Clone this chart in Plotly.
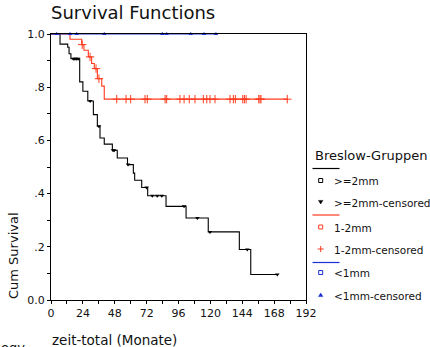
import numpy as np
import plotly.graph_objects as go

# ---------------- data ----------------
x_tickvals = [0, 24, 48, 72, 96, 120, 144, 168, 192]
y_tickvals = [0.0, 0.2, 0.4, 0.6, 0.8, 1.0]
y_ticktext = ["0.0", ".2", ".4", ".6", ".8", "1.0"]

# >=2mm
ge2_event_t = [6.8, 12.6, 13.6, 15.0, 21.6, 24.0, 27.7, 31.9, 34.9, 36.9, 40.1,
               46.2, 49.9, 57.6, 62.0, 63.0, 68.3, 72.8, 86.6, 101.7, 118.4,
               141.8, 150.4]
ge2_surv = [0.962, 0.950, 0.926, 0.907, 0.820, 0.785, 0.748, 0.697, 0.653, 0.609,
            0.586, 0.563, 0.534, 0.509, 0.477, 0.450, 0.423, 0.392, 0.352, 0.308,
            0.256, 0.190, 0.096]
ge2_cens_t = [16.8, 18.0, 19.2, 20.4, 29.5, 36.1, 46.7, 47.6, 58.0, 72.0, 76.3,
              80.0, 83.4, 100.2, 110.2, 119.7, 147.8, 170.4]

# 1-2mm
m12_event_t = [14.3, 23.1, 24.8, 28.1, 30.6, 32.6, 34.9, 38.2, 40.1]
m12_surv = [0.980, 0.960, 0.939, 0.914, 0.889, 0.870, 0.832, 0.804, 0.755]
m12_cens_t = [23.5, 29.4, 33.9, 36.1, 49.5, 56.5, 60.0, 70.8, 72.5, 85.9, 87.1,
              97.1, 100.2, 104.1, 108.4, 114.7, 117.3, 119.7, 123.5, 134.8,
              137.3, 138.8, 144.4, 145.6, 146.9, 156.4, 157.4, 158.1, 177.9]

# <1mm
l1_event_t = []
l1_surv = []
l1_cens_t = [4.3, 14.3, 19.3, 40.1, 83.8, 87.1, 105.2, 115.2, 124.2]

groups = [
    (">=2mm", ge2_event_t, ge2_surv, ge2_cens_t),
    ("1-2mm", m12_event_t, m12_surv, m12_cens_t),
    ("<1mm", l1_event_t, l1_surv, l1_cens_t),
]
colors = {">=2mm": "#000000", "1-2mm": "#ff3b1e", "<1mm": "#1b2fd2"}
cens_style = {
    ">=2mm": dict(symbol="triangle-down", size=4, color="#000000"),
    "1-2mm": dict(symbol="cross-thin-open", size=6, color="#ff3b1e",
                  line=dict(width=1, color="#ff3b1e")),
    "<1mm": dict(symbol="triangle-up", size=4, color="#1b2fd2"),
}

FONT = "DejaVu Sans"
W, H = 430, 347
# plot area in picture pixels
PL, PR, PT, PB = 51, 306, 34, 300
L, T = PL, PT
R, B = W - PR, H - PB
PW, PH = PR - PL, PB - PT


def px(xpix):
    return (xpix - PL) / PW


def py(ypix):
    return (PB - ypix) / PH


fig = go.Figure()

for name, et, sv, ct in groups:
    et = np.asarray(et, dtype=float)
    sv = np.asarray(sv, dtype=float)
    ct = np.asarray(ct, dtype=float)
    end = max(ct.max() if ct.size else 0, et.max() if et.size else 0)
    xs = np.concatenate([[0.0], et, [end]])
    ys = np.concatenate([[1.0], sv, [sv[-1] if sv.size else 1.0]])
    fig.add_trace(go.Scatter(x=xs, y=ys, mode="lines", line_shape="hv",
                             line=dict(color=colors[name], width=1.1),
                             showlegend=False, cliponaxis=False,
                             hoverinfo="skip"))
    idx = np.searchsorted(et, ct, side="right")
    full = np.concatenate([[1.0], sv])
    cy = full[idx]
    fig.add_trace(go.Scatter(x=ct, y=cy, mode="markers",
                             marker=cens_style[name], showlegend=False,
                             cliponaxis=False, hoverinfo="skip"))

# ---------------- manual legend ----------------
shapes = []
annotations = []
annotations.append(dict(text="Breslow-Gruppen", x=px(313), y=py(155),
                        xref="paper", yref="paper", xanchor="left",
                        yanchor="middle", showarrow=False,
                        font=dict(family=FONT, size=13, color="#111")))
leg_rows = [
    (">=2mm", 168.5, 180.5, 202.0),
    ("1-2mm", 215.0, 227.0, 249.0),
    ("<1mm", 262.5, 272.5, 295.0),
]
mx = 320.7
for name, yl, ys_, yc in leg_rows:
    c = colors[name]
    shapes.append(dict(type="line", xref="paper", yref="paper",
                       x0=px(312.5), x1=px(339.5), y0=py(yl), y1=py(yl),
                       line=dict(color=c, width=1.2)))
    # open square
    shapes.append(dict(type="rect", xref="paper", yref="paper",
                       x0=px(mx - 2), x1=px(mx + 2), y0=py(ys_ - 2), y1=py(ys_ + 2),
                       line=dict(color=c, width=1), fillcolor="white"))
    # censored symbol
    if name == ">=2mm":
        path = "M {:.4f},{:.4f} L {:.4f},{:.4f} L {:.4f},{:.4f} Z".format(
            px(mx - 2.2), py(yc - 1.6), px(mx + 2.2), py(yc - 1.6), px(mx), py(yc + 2))
        shapes.append(dict(type="path", xref="paper", yref="paper", path=path,
                           fillcolor=c, line=dict(color=c, width=0.5)))
    elif name == "<1mm":
        path = "M {:.4f},{:.4f} L {:.4f},{:.4f} L {:.4f},{:.4f} Z".format(
            px(mx - 2.2), py(yc + 1.6), px(mx + 2.2), py(yc + 1.6), px(mx), py(yc - 2))
        shapes.append(dict(type="path", xref="paper", yref="paper", path=path,
                           fillcolor=c, line=dict(color=c, width=0.5)))
    else:
        shapes.append(dict(type="line", xref="paper", yref="paper",
                           x0=px(mx - 3), x1=px(mx + 3), y0=py(yc), y1=py(yc),
                           line=dict(color=c, width=1)))
        shapes.append(dict(type="line", xref="paper", yref="paper",
                           x0=px(mx), x1=px(mx), y0=py(yc - 3), y1=py(yc + 3),
                           line=dict(color=c, width=1)))
    annotations.append(dict(text=name, x=px(332), y=py(ys_ + 0.5),
                            xref="paper", yref="paper", xanchor="left",
                            yanchor="middle", showarrow=False,
                            font=dict(family=FONT, size=10.5, color="#111")))
    annotations.append(dict(text=name + "-censored", x=px(332), y=py(yc + 1),
                            xref="paper", yref="paper", xanchor="left",
                            yanchor="middle", showarrow=False,
                            font=dict(family=FONT, size=10.5, color="#111")))

# titles
annotations.append(dict(text="Survival Functions", x=px(49), y=py(13),
                        xref="paper", yref="paper", xanchor="left",
                        yanchor="middle", showarrow=False,
                        font=dict(family=FONT, size=18, color="#111")))
annotations.append(dict(text="Cum Survival", x=px(13), y=py(256),
                        xref="paper", yref="paper", xanchor="center",
                        yanchor="middle", textangle=-90, showarrow=False,
                        font=dict(family=FONT, size=13, color="#111")))
annotations.append(dict(text="zeit-total (Monate)", x=px(50), y=py(340),
                        xref="paper", yref="paper", xanchor="left",
                        yanchor="middle", showarrow=False,
                        font=dict(family=FONT, size=13.5, color="#111")))
annotations.append(dict(text="ogy", x=px(-1), y=py(338),
                        xref="paper", yref="paper", xanchor="left",
                        yanchor="top", showarrow=False,
                        font=dict(family=FONT, size=13, color="#111")))

fig.update_layout(
    width=W, height=H,
    margin=dict(l=L, r=R, t=T, b=B, pad=0),
    paper_bgcolor="white", plot_bgcolor="white",
    showlegend=False,
    shapes=shapes, annotations=annotations,
    font=dict(family=FONT, size=11, color="#111"),
)
fig.update_xaxes(range=[0, 192], tickvals=x_tickvals,
                 showgrid=False, zeroline=False,
                 showline=True, linecolor="black", linewidth=1.3, mirror=True,
                 ticks="outside", ticklen=3, tickcolor="black", tickwidth=1,
                 minor=dict(ticks="outside", tick0=0, dtick=12, ticklen=3,
                            tickcolor="black"),
                 tickfont=dict(family=FONT, size=11, color="#111"))
fig.update_yaxes(range=[0, 1], tickvals=y_tickvals, ticktext=y_ticktext,
                 showgrid=False, zeroline=False,
                 showline=True, linecolor="black", linewidth=1.3, mirror=True,
                 ticks="outside", ticklen=3, tickcolor="black", tickwidth=1,
                 minor=dict(ticks="outside", tick0=0, dtick=0.1, ticklen=3,
                            tickcolor="black"),
                 tickfont=dict(family=FONT, size=11, color="#111"))

fig.write_html(
    "out.html",
    config={"displayModeBar": False},
    post_script=("document.body.style.margin='0';"
                 "document.body.style.overflow='hidden';"
                 "document.documentElement.style.overflow='hidden';"),
)
